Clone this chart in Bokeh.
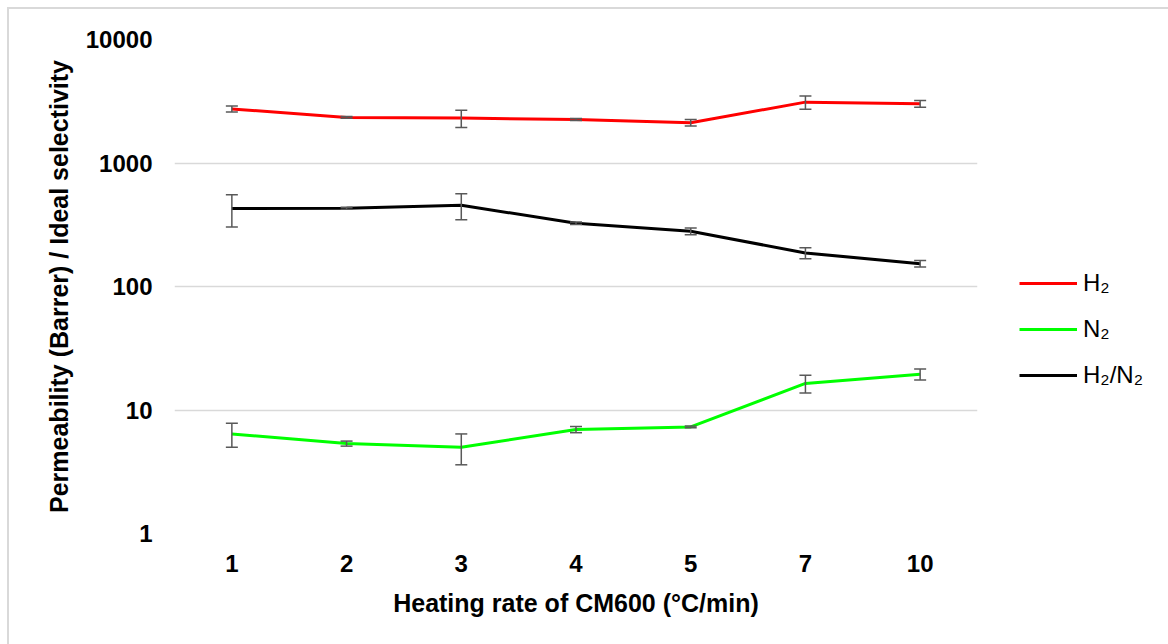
from bokeh.plotting import figure
from bokeh.layouts import row
from bokeh.models import (ColumnDataSource, FactorRange, Range1d, FixedTicker, Whisker, TeeHead,
                          Legend, LegendItem, BasicTickFormatter)
from bokeh.embed import file_html
from bokeh.resources import INLINE

# ---- data ----
rates = ["1", "2", "3", "4", "5", "7", "10"]
h2 = [2740, 2340, 2310, 2250, 2120, 3110, 3020]
h2_err = [150, 40, 370, 40, 130, 380, 190]
n2 = [6.4, 5.35, 5.0, 6.95, 7.3, 16.4, 19.5]
n2_err = [1.4, 0.25, 1.4, 0.4, 0.12, 2.7, 2.0]
sel = [428, 430, 455, 325, 280, 187, 153]
sel_err = [125, 8, 108, 8, 18, 19, 9]
series_names = ["H₂", "N₂", "H₂/N₂"]
series_colors = ["#ff0000", "#00ff00", "#000000"]
y_ticks = [1, 10, 100, 1000, 10000]

FONT = "Liberation Sans"
ERR_COLOR = "#595959"

p = figure(width=1000, height=635, x_range=FactorRange(*rates), y_axis_type="log",
           y_range=Range1d(1, 10000), output_backend="svg", toolbar_location=None,
           min_border_left=165, min_border_right=32, min_border_top=30, min_border_bottom=111)
p.outline_line_color = None
p.background_fill_color = "white"
p.border_fill_color = "white"

def series(vals, errs):
    return ColumnDataSource(dict(x=rates, y=vals,
                                 lo=[v - e for v, e in zip(vals, errs)],
                                 hi=[v + e for v, e in zip(vals, errs)]))

for vals, errs, col in zip([h2, n2, sel], [h2_err, n2_err, sel_err], series_colors):
    src = series(vals, errs)
    p.line("x", "y", source=src, line_color=col, line_width=3)
    w = Whisker(base="x", upper="hi", lower="lo", source=src, dimension="height",
                line_color=ERR_COLOR, line_width=1.5, level="annotation",
                upper_head=TeeHead(size=12, line_color=ERR_COLOR, line_width=1.5),
                lower_head=TeeHead(size=12, line_color=ERR_COLOR, line_width=1.5))
    p.add_layout(w)

# axes
p.xgrid.visible = False
p.ygrid.ticker = FixedTicker(ticks=y_ticks)
p.ygrid.grid_line_color = "#d9d9d9"
p.ygrid.grid_line_width = 1.5

p.yaxis.ticker = FixedTicker(ticks=y_ticks, minor_ticks=[])
p.yaxis.formatter = BasicTickFormatter(use_scientific=False)
for ax in (p.xaxis, p.yaxis):
    ax.axis_line_color = None
    ax.major_tick_line_color = None
    ax.minor_tick_line_color = None
    ax.major_tick_out = 0
    ax.major_label_standoff = 22
    ax.major_label_text_font = FONT
    ax.major_label_text_font_style = "bold"
    ax.major_label_text_font_size = "24px"
    ax.major_label_text_color = "black"
    ax.axis_label_text_font = FONT
    ax.axis_label_text_font_style = "bold"
    ax.axis_label_text_font_size = "25px"
    ax.axis_label_text_color = "black"
    ax.axis_label_standoff = 10
p.xaxis.axis_label = "Heating rate of CM600 (°C/min)"
p.yaxis.axis_label = "Permeability (Barrer) / Ideal selectivity"
p.xaxis.major_label_standoff = 21
p.xaxis.axis_label_standoff = 14

# legend panel (separate figure on the right, using the same line styles)
pl = figure(width=159, height=635, x_range=Range1d(0, 1), y_range=Range1d(0, 1),
            output_backend="svg", toolbar_location=None,
            x_axis_location=None, y_axis_location=None, min_border=0)
pl.outline_line_color = None
pl.grid.visible = False
pl.border_fill_color = "white"
items = []
for name, col in zip(series_names, series_colors):
    # off-range sample line: only its style is shown, in the legend
    r = pl.line(x=[-2, -1], y=[-2, -1], line_color=col, line_width=3)
    items.append(LegendItem(label=name, renderers=[r]))
legend = Legend(items=items, location=(10, 144), glyph_width=58, glyph_height=24, label_height=24,
                label_standoff=6, spacing=18, padding=0, margin=0,
                border_line_color=None, background_fill_alpha=0,
                label_text_font=FONT, label_text_font_size="24px", label_text_color="black")
pl.add_layout(legend)

layout = row(p, pl, spacing=0)
layout.styles = {"margin-left": "7px", "margin-top": "7px",
                 "border-left": "2px solid #d9d9d9", "border-top": "2px solid #d9d9d9"}

open("out.html", "w").write(file_html(layout, INLINE))
